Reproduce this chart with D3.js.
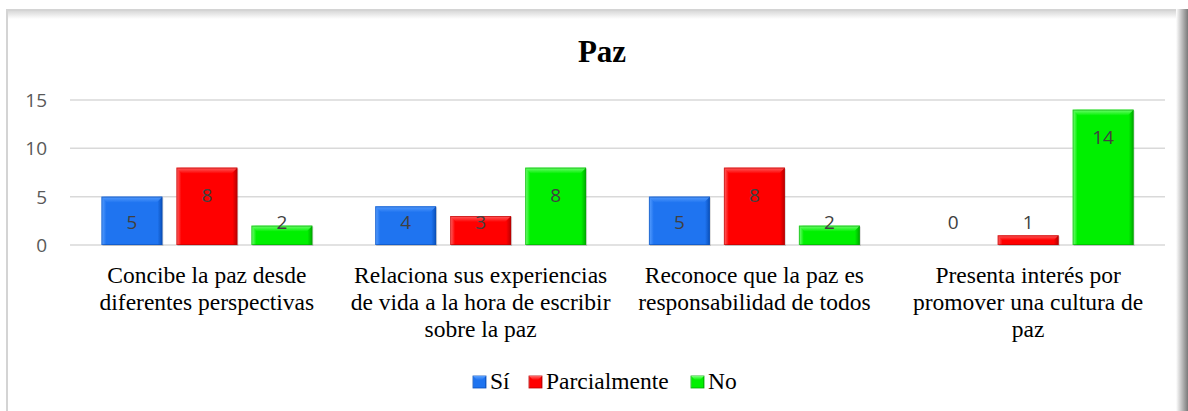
<!DOCTYPE html>
<html><head><meta charset="utf-8">
<script src="https://cdn.jsdelivr.net/npm/d3@7"></script>
<style>html,body{margin:0;padding:0;background:#fff;}svg{display:block;}</style>
</head><body>
<svg id="chart" width="1188" height="411"></svg>
<script>
const title = "Paz";
const categories = [
  ["Concibe la paz desde", "diferentes perspectivas"],
  ["Relaciona sus experiencias", "de vida a la hora de escribir", "sobre la paz"],
  ["Reconoce que la paz es", "responsabilidad de todos"],
  ["Presenta interés por", "promover una cultura de", "paz"]
];
const seriesNames = ["Sí", "Parcialmente", "No"];
const siValues = [5, 4, 5, 0];
const parcialValues = [8, 3, 8, 1];
const noValues = [2, 8, 2, 14];
const yTicks = [0, 5, 10, 15];
const colors = ["#1f74f0", "#ff0000", "#00f000"];
const darks = ["#0a4fb8", "#b80000", "#00a800"];
const lights = ["#5aa0ff", "#ff6a6a", "#7dff7d"];

const series = [siValues, parcialValues, noValues];
const svg = d3.select("#chart");

// frame
const defs = svg.append("defs");
const sh = defs.append("linearGradient").attr("id","rshadow").attr("x1","0").attr("x2","1");
sh.append("stop").attr("offset","0").attr("stop-color","#ffffff");
sh.append("stop").attr("offset","1").attr("stop-color","#7a7a7a");
const th = defs.append("linearGradient").attr("id","tshadow").attr("x1","0").attr("x2","0").attr("y1","0").attr("y2","1");
th.append("stop").attr("offset","0").attr("stop-color","#d0d0d0");
th.append("stop").attr("offset","1").attr("stop-color","#ffffff");
svg.append("rect").attr("x",6).attr("y",9).attr("width",1172).attr("height",10).attr("fill","url(#tshadow)");
svg.append("rect").attr("x",6).attr("y",9).attr("width",1172).attr("height",2).attr("fill","#d4d4d4");
svg.append("rect").attr("x",6).attr("y",9).attr("width",2).attr("height",402).attr("fill","#d4d4d4");
svg.append("rect").attr("x",1176).attr("y",9).attr("width",12).attr("height",402).attr("fill","url(#rshadow)");

series.forEach((s,i)=>{
  const g = defs.append("linearGradient").attr("id","g"+i).attr("x1","0").attr("x2","1");
  g.append("stop").attr("offset","0").attr("stop-color",lights[i]);
  g.append("stop").attr("offset","0.08").attr("stop-color",colors[i]);
  g.append("stop").attr("offset","0.92").attr("stop-color",colors[i]);
  g.append("stop").attr("offset","1").attr("stop-color",darks[i]);
  const t = defs.append("linearGradient").attr("id","t"+i).attr("x1","0").attr("x2","0").attr("y1","0").attr("y2","1");
  t.append("stop").attr("offset","0").attr("stop-color",lights[i]);
  t.append("stop").attr("offset","1").attr("stop-color",colors[i]);
});

const plotL = 70, plotR = 1165;
const x0 = d3.scaleBand().domain(d3.range(categories.length)).range([plotL, plotR]).paddingInner(0).paddingOuter(0);
const x1 = d3.scaleBand().domain(d3.range(seriesNames.length)).range([0, x0.bandwidth()]).paddingInner(0.187).paddingOuter(0.419);
const y = d3.scaleLinear().domain([0, 15]).range([245, 100]);

// title
svg.append("text").attr("x", 602).attr("y", 62).attr("text-anchor","middle")
  .attr("font-family","Liberation Serif").attr("font-weight","bold").attr("font-size",31).attr("fill","#000").text(title);

// gridlines
svg.append("g").selectAll("line").data(yTicks).join("line")
  .attr("x1",plotL).attr("x2",plotR).attr("y1",d=>y(d)).attr("y2",d=>y(d))
  .attr("stroke","#d9d9d9").attr("stroke-width",1.5);

// y axis labels
const yAxis = d3.axisLeft(y).tickValues(yTicks).tickSize(0).tickPadding(0);
const ya = svg.append("g").attr("transform",`translate(47,0)`).call(yAxis);
ya.select(".domain").remove();
ya.selectAll("text").attr("font-family","Open Sans, Liberation Sans").attr("font-size",19).attr("fill","#595959").attr("dy","0.35em");

// bars
const groups = svg.append("g").selectAll("g").data(categories).join("g")
  .attr("transform",(d,i)=>`translate(${x0(i)},0)`);
groups.each(function(c, ci){
  const g = d3.select(this);
  series.forEach((s, si)=>{
    const v = s[ci];
    const bx = x1(si), bw = x1.bandwidth();
    const top = y(v), h = y(0) - y(v);
    if (h > 0) {
      g.append("rect").attr("x",bx+1).attr("y",top+1).attr("width",bw).attr("height",h).attr("fill","#000").attr("opacity",0.15);
      g.append("rect").attr("x",bx).attr("y",top).attr("width",bw).attr("height",h).attr("fill",`url(#g${si})`);
      const bev = Math.min(6, h/2);
      g.append("polygon").attr("points",`${bx},${top} ${bx+bw},${top} ${bx+bw-bev},${top+bev} ${bx+bev},${top+bev}`)
        .attr("fill",`url(#t${si})`).attr("opacity",0.9);
      g.append("rect").attr("x",bx+0.5).attr("y",top+0.5).attr("width",bw-1).attr("height",Math.max(0,h-1))
        .attr("fill","none").attr("stroke",darks[si]).attr("stroke-width",1).attr("opacity",0.6);
    }
    g.append("text").attr("x",bx+bw/2).attr("y",Math.min(top+28, 222)).attr("dy","0.35em")
      .attr("text-anchor","middle").attr("font-family","Open Sans, Liberation Sans").attr("font-size",19)
      .attr("fill","#404040").text(v);
  });
  const t = g.append("text").attr("text-anchor","middle").attr("font-family","Liberation Serif")
    .attr("font-size",23.5).attr("fill","#000");
  c.forEach((line, li)=>{
    t.append("tspan").attr("x", x0.bandwidth()/2).attr("y", 283 + li*27).text(line);
  });
});

// legend
const legendX = [473, 529, 691];
const lg = svg.append("g");
seriesNames.forEach((n, i)=>{
  const lx = legendX[i];
  lg.append("rect").attr("x",lx).attr("y",376).attr("width",13).attr("height",12).attr("fill",`url(#g${i})`)
    .attr("stroke",darks[i]).attr("stroke-width",0.8);
  lg.append("polygon").attr("points",`${lx},376 ${lx+13},376 ${lx+9},380 ${lx+4},380`).attr("fill",`url(#t${i})`);
  lg.append("text").attr("x",lx+17).attr("y",389).attr("font-family","Liberation Serif").attr("font-size",23.5)
    .attr("fill","#000").text(n);
});
</script>
</body></html>
